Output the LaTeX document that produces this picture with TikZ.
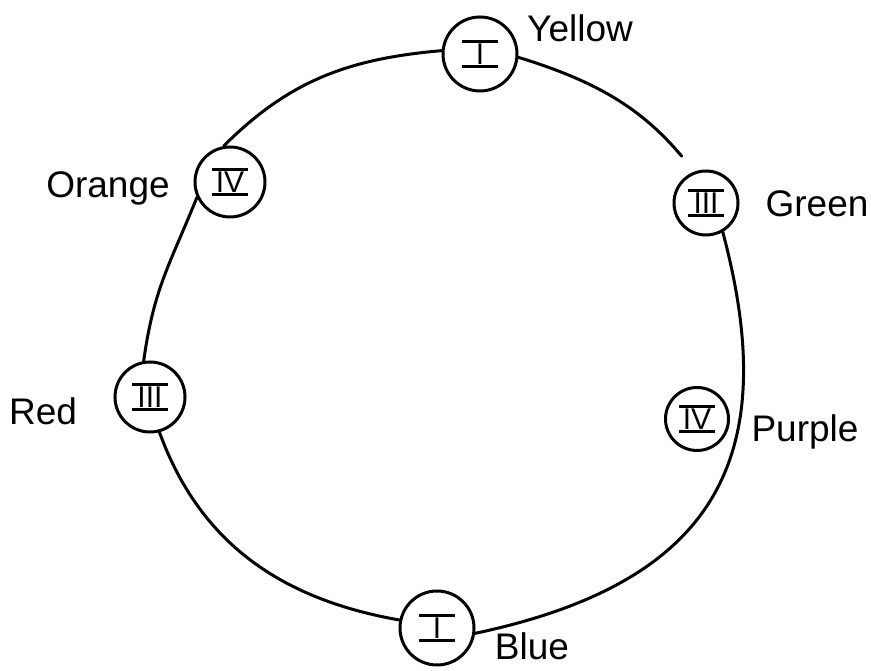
\documentclass[tikz,border=0pt]{standalone}
\usepackage{fontspec}
\setmainfont{Liberation Sans}

\begin{document}
\begin{tikzpicture}[x=1pt,y=1pt,
  disc/.style={circle, draw=black, line width=3pt, fill=white,
    inner sep=0pt, minimum size=70pt, font=\fontsize{30}{32}\selectfont},
  ring/.style={black, line width=3pt, line cap=round},
  colname/.style={anchor=base, font=\fontsize{37}{40}\selectfont}]

% ------------------------------------------------------------------
% Roman numeral with a bar above and below: \numeral{III}
% ------------------------------------------------------------------
\newcommand{\numeral}[1]{%
  \vbox{\hrule width 36pt height 3pt
    \kern1pt
    \hbox to 36pt{\hss#1\hss}
    \kern1pt
    \hrule width 36pt height 3pt}%
}

\useasboundingbox (0,0) rectangle (871,671);

% Stations on the ring.
\node[disc, minimum size=74pt] (yellow) at (480,617) {\numeral{I}};
\node[disc] (orange) at (230,489) {\numeral{IV}};
\node[disc, minimum size=64pt] (green) at (706,468) {\numeral{III}};
\node[disc] (red) at (150,274) {\numeral{III}};
\node[disc, minimum size=63pt] (purple) at (697,252) {\numeral{IV}};
\node[disc, minimum size=74pt] (blue) at (437,43) {\numeral{I}};

% Colour names.
\node[colname] (ylab) at (580,629) {Yellow};
\node[colname] (olab) at (108,473) {Orange};
\node[colname] (glab) at (817,454) {Green};
\node[colname] (rlab) at (43,246) {Red};
\node[colname] (plab) at (805,229) {Purple};
\node[colname] (blab) at (532,11) {Blue};

% The ring, piece by piece.
\draw[ring, shorten >=20pt] (yellow.-5) to[out=-17, in=130] (green.110);
\draw[ring] (green.-60) to[out=-75, in=12, looseness=1.3] (blue.-8);
\draw[ring] (blue.168) to[out=170, in=-70] (red.-75);
\draw[ring] (red.100) to[out=82, in=248, looseness=1.1] (orange.205);
\draw[ring] (orange.100) to[out=45, in=185] (yellow.175);

\end{tikzpicture}
\end{document}
